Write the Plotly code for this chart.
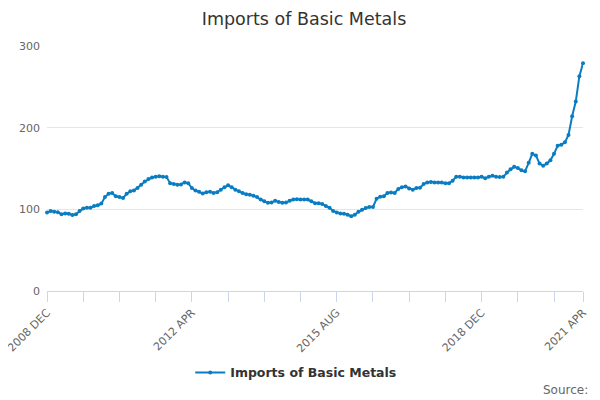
import plotly.graph_objects as go

# monthly index, Dec 2008 .. Apr 2021
months = ['JAN', 'FEB', 'MAR', 'APR', 'MAY', 'JUN', 'JUL', 'AUG', 'SEP', 'OCT', 'NOV', 'DEC']
categories = ['2008 DEC'] + [f'{y} {m}' for y in range(2009, 2021) for m in months] + \
             [f'2021 {m}' for m in months[:4]]

imports = [96, 98, 97, 96.5, 94, 95, 94.5, 93, 94, 98,
           101, 102, 102, 104, 105, 107, 115, 119, 120, 116,
           115, 114, 119, 122, 123, 126, 130, 134, 137, 139,
           140, 140.5, 140, 139.5, 132, 131, 130, 130.5, 133, 132,
           126, 123, 121.5, 119.5, 121, 121.5, 120, 121, 124, 127,
           129.5, 127, 124, 122, 120, 118.5, 118, 116.5, 115, 112,
           110, 108, 108.5, 110.5, 109, 108, 108.5, 110.5, 112, 112.5,
           112, 112, 112, 110, 107.5, 107.5, 106.5, 104, 102, 98,
           96, 95, 94.5, 93.5, 91.5, 93.5, 97, 99.5, 101.5, 103,
           103, 113, 115.5, 116, 120, 120.5, 120, 125, 127, 128,
           125.5, 124, 126, 126.5, 131, 133, 133.5, 133, 133, 133,
           132, 132, 135, 140, 140, 139, 139, 139, 139, 139,
           140, 138, 140, 141, 140, 139.5, 140, 145, 149, 152,
           150.5, 148, 146.5, 157, 168, 166, 156, 153.5, 156, 160,
           168, 178, 179, 182, 191, 214, 232, 263, 279]

label_ticks = ['2008 DEC', '2012 APR', '2015 AUG', '2018 DEC', '2021 APR']
y_ticks = [0, 100, 200, 300]

tickvals = categories[::10] + [categories[-1]]
ticktext = [c if c in label_ticks else '' for c in tickvals]

fig = go.Figure()
fig.add_trace(go.Scatter(
    x=categories, y=imports, mode='lines+markers',
    name='Imports of Basic Metals',
    line=dict(color='#0a7dc2', width=2),
    marker=dict(size=4, color='#0a7dc2'),
    cliponaxis=False
))

# page body has an 8px margin, so the figure is 8px smaller each way
fig.update_layout(
    width=592, height=392,
    margin=dict(l=39, r=17, t=38, b=109, autoexpand=False),
    paper_bgcolor='white', plot_bgcolor='white',
    font=dict(family='DejaVu Sans', color='#666666', size=11),
    title=dict(text='Imports of Basic Metals', x=0.5, xanchor='center',
               y=0.972, yanchor='middle',
               font=dict(size=17.5, color='#333333')),
    showlegend=True,
    legend=dict(orientation='h', x=0.465, xanchor='center', yref='container',
                y=0.069, yanchor='middle', itemwidth=30,
                font=dict(size=12.5, color='#333333', weight='bold')),
    annotations=[dict(text='Source:', xref='paper', yref='paper', x=1.013, y=-0.404,
                      xanchor='right', yanchor='middle', showarrow=False,
                      font=dict(size=12, color='#666666'))]
)

fig.update_xaxes(
    type='category', range=[0, len(categories) - 1], automargin=False,
    tickmode='array', tickvals=tickvals, ticktext=ticktext, tickangle=-45,
    ticks='outside', ticklen=10, tickcolor='#ccd6eb',
    showline=True, linecolor='#ccd6eb', showgrid=False, zeroline=False
)
fig.update_yaxes(
    range=[0, 300], tickvals=y_ticks, showgrid=True, gridcolor='#e6e6e6',
    zeroline=False, showline=False, ticks='', ticklabelstandoff=6, automargin=False
)

fig.write_html('out.html')
